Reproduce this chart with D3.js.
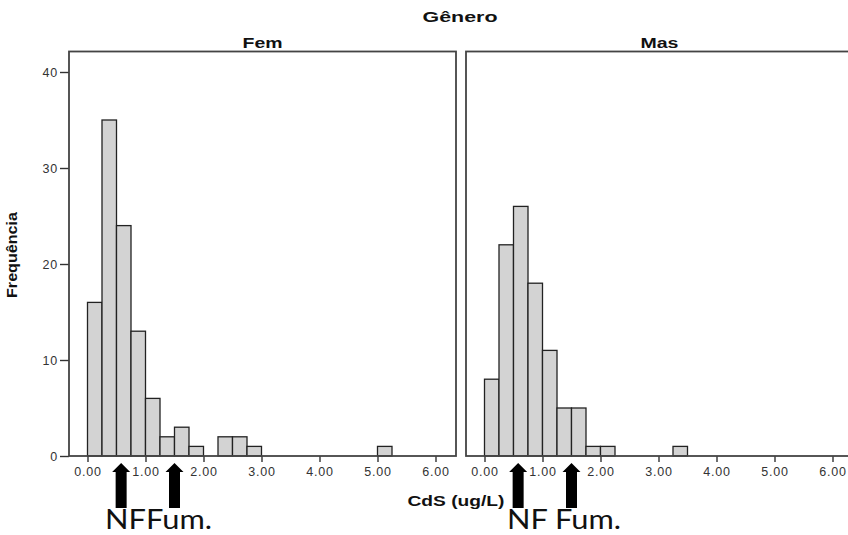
<!DOCTYPE html>
<html>
<head>
<meta charset="utf-8">
<script src="https://cdn.jsdelivr.net/npm/d3@7"></script>
<style>
  body { margin: 0; background: #fff; }
  svg { display: block; }
  .tick text { font-family: "Liberation Sans", Arial, sans-serif; font-size: 12.5px; fill: #333; letter-spacing: 0.8px; }
  .tick line { stroke: #333; stroke-width: 1.4; }
  .domain { display: none; }
</style>
</head>
<body>
<div id="chart"></div>
<script>
// Data
const panels = ['Fem', 'Mas'];
const binStarts = [0.00, 0.25, 0.50, 0.75, 1.00, 1.25, 1.50, 1.75, 2.00, 2.25, 2.50,
  2.75, 3.00, 3.25, 3.50, 3.75, 4.00, 4.25, 4.50, 4.75, 5.00, 5.25];
const binWidth = 0.25;
const femCounts = [16, 35, 24, 13, 6, 2, 3, 1, 0, 2, 2, 1, 0, 0, 0, 0, 0, 0, 0, 0, 1, 0];
const masCounts = [8, 22, 26, 18, 11, 5, 5, 1, 1, 0, 0, 0, 0, 1, 0, 0, 0, 0, 0, 0, 0, 0];
const xTicks = [0, 1, 2, 3, 4, 5, 6];
const yTicks = [0, 10, 20, 30, 40];
const markerValues = [0.58, 1.5];
const markerCaptions = ['NFFum.', 'NF Fum.'];

const width = 848;
const height = 535;

const svg = d3.select('#chart')
  .append('svg')
  .attr('width', width)
  .attr('height', height);

// Shared y scale
const yScale = d3.scaleLinear()
  .domain([0, 40])
  .range([456, 72]);

const frameTop = 51.5;
const panelLeft = [69, 466];
const panelWidth = 387;

// stretched text helper (the source image is wider than the fonts)
function label(txt, x, y, size, weight, len, family) {
  return svg.append('text')
    .attr('x', x)
    .attr('y', y)
    .attr('text-anchor', 'middle')
    .attr('font-family', family || '"Liberation Sans", Arial, sans-serif')
    .attr('font-size', size)
    .attr('font-weight', weight)
    .attr('textLength', len)
    .attr('lengthAdjust', 'spacingAndGlyphs')
    .attr('fill', '#111')
    .text(txt);
}

const countsByPanel = [femCounts, masCounts];

panels.forEach((name, i) => {
  const left = panelLeft[i];
  const xScale = d3.scaleLinear()
    .domain([0, 6])
    .range([left + 18.5, left + 366.5]);

  const g = svg.append('g');

  // bars
  const bins = binStarts.map((b, j) => ({ x0: b, x1: b + binWidth, n: countsByPanel[i][j] }))
    .filter(d => d.n > 0);

  g.selectAll('.bar')
    .data(bins)
    .enter()
    .append('rect')
    .attr('class', 'bar')
    .attr('x', d => xScale(d.x0))
    .attr('width', d => xScale(d.x1) - xScale(d.x0))
    .attr('y', d => yScale(d.n))
    .attr('height', d => yScale(0) - yScale(d.n))
    .attr('fill', '#d3d3d3')
    .attr('stroke', '#222')
    .attr('stroke-width', 1.3);

  // x axis
  g.append('g')
    .attr('transform', `translate(0, ${yScale(0)})`)
    .call(d3.axisBottom(xScale)
      .tickValues(xTicks)
      .tickSize(6)
      .tickPadding(5)
      .tickFormat(d3.format('.2f')));

  // y axis only on the first panel
  if (i === 0) {
    g.append('g')
      .attr('transform', `translate(${left}, 0)`)
      .call(d3.axisLeft(yScale)
        .tickValues(yTicks)
        .tickSize(9)
        .tickPadding(2)
        .tickFormat(d3.format('d')));
  }

  // frame
  g.append('rect')
    .attr('x', left)
    .attr('y', frameTop)
    .attr('width', panelWidth)
    .attr('height', yScale(0) - frameTop)
    .attr('fill', 'none')
    .attr('stroke', '#444')
    .attr('stroke-width', 1.8);

  // panel title
  label(name, left + panelWidth / 2, 48, 14.5, 'bold', i === 0 ? 40 : 38);

  // arrows
  g.selectAll('.arrow')
    .data(markerValues)
    .enter()
    .append('path')
    .attr('class', 'arrow')
    .attr('d', d => {
      const cx = xScale(d);
      return `M${cx},463 L${cx + 9},472 L${cx + 5.5},472 L${cx + 5.5},508`
        + ` L${cx - 5.5},508 L${cx - 5.5},472 L${cx - 9},472 Z`;
    })
    .attr('fill', '#000');

  // caption under arrows
  svg.append('text')
    .attr('x', i === 0 ? 105 : 507)
    .attr('y', 529)
    .attr('font-family', 'Lato, "Open Sans", sans-serif')
    .attr('font-size', 27)
    .attr('textLength', i === 0 ? 107 : 114)
    .attr('lengthAdjust', 'spacingAndGlyphs')
    .attr('fill', '#111')
    .text(markerCaptions[i]);
});

// Titles
label('Gênero', 460, 22, 15, 'bold', 75);
label('CdS (ug/L)', 456, 506, 14.5, 'bold', 97);

svg.append('text')
  .attr('transform', 'translate(17, 255) rotate(-90)')
  .attr('text-anchor', 'middle')
  .attr('font-family', '"Liberation Sans", Arial, sans-serif')
  .attr('font-size', 15)
  .attr('font-weight', 'bold')
  .attr('textLength', 86)
  .attr('lengthAdjust', 'spacingAndGlyphs')
  .attr('fill', '#111')
  .text('Frequência');
</script>
</body>
</html>
